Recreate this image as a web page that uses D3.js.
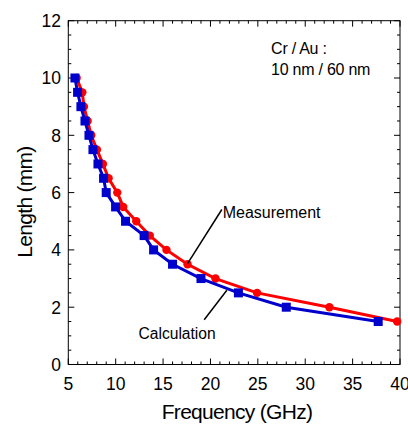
<!DOCTYPE html>
<html><head><meta charset="utf-8">
<script src="https://cdn.jsdelivr.net/npm/d3@7"></script>
<style>body{margin:0;background:#fff}svg{display:block}text{font-family:"Liberation Sans",Arial,sans-serif;fill:#000}</style>
</head><body>
<svg id="c" width="408" height="427"></svg>
<script>
const lengths = [10,9.5,9,8.5,8,7.5,7,6.5,6,5.5,5,4.5,4,3.5,3,2.5,2,1.5];
const measFreq = [5.88,6.48,6.65,7.04,7.42,8.02,8.65,9.25,10.17,10.8,12.17,13.6,15.36,17.58,20.53,24.92,32.55,39.7];
const calcFreq = [5.7,5.98,6.33,6.76,7.18,7.6,8.13,8.72,9.0,9.99,11.04,13.0,14.0,16.0,19.0,22.95,28.0,37.7];
const xTicks = [5,10,15,20,25,30,35,40];
const yTicks = [0,2,4,6,8,10,12];
const labels = {x:"Frequency (GHz)", y:"Length (mm)", note1:"Cr / Au :", note2:"10 nm / 60 nm", meas:"Measurement", calc:"Calculation"};

const svg = d3.select("#c");
const L=68.3, R=400, T=20.7, B=364.5;
const x = d3.scaleLinear().domain([5,40]).range([L,R]);
const y = d3.scaleLinear().domain([0,12]).range([B,T]);

// frame
svg.append("rect").attr("x",L).attr("y",T).attr("width",R-L).attr("height",B-T)
  .attr("fill","none").attr("stroke","#000").attr("stroke-width",1);

// ticks (inside)
const g = svg.append("g").attr("stroke","#000").attr("stroke-width",1);
d3.range(5,40.01,1).forEach(v=>{
  const len = v%5===0 ? 6 : 3;
  g.append("line").attr("x1",x(v)).attr("x2",x(v)).attr("y1",B).attr("y2",B-len);
  g.append("line").attr("x1",x(v)).attr("x2",x(v)).attr("y1",T).attr("y2",T+len);
});
d3.range(0,12.01,0.5).forEach(v=>{
  const len = v%2===0 ? 6 : 3;
  g.append("line").attr("y1",y(v)).attr("y2",y(v)).attr("x1",L).attr("x2",L+len);
  g.append("line").attr("y1",y(v)).attr("y2",y(v)).attr("x1",R).attr("x2",R-len);
});

// tick labels
svg.append("g").selectAll("text").data(xTicks).join("text")
  .attr("x",d=>x(d)).attr("y",390).attr("text-anchor","middle")
  .attr("font-size",17.5).text(d=>d);
svg.append("g").selectAll("text").data(yTicks).join("text")
  .attr("x",61).attr("y",d=>y(d)+6.3).attr("text-anchor","end")
  .attr("font-size",17.5).text(d=>d);

// axis titles
svg.append("text").attr("x",237).attr("y",419).attr("text-anchor","middle")
  .attr("font-size",21).attr("letter-spacing",-0.7).text(labels.x);
svg.append("text").attr("transform","translate(32,202) rotate(-90)").attr("text-anchor","middle")
  .attr("font-size",21).attr("letter-spacing",-0.7).text(labels.y);

// series
const line = d3.line();
const meas = measFreq.map((f,i)=>[x(f),y(lengths[i])]);
const calc = calcFreq.map((f,i)=>[x(f),y(lengths[i])]);
svg.append("path").attr("d",line(meas)).attr("fill","none").attr("stroke","#ff0000").attr("stroke-width",3);
svg.append("g").selectAll("circle").data(meas).join("circle")
  .attr("cx",d=>d[0]).attr("cy",d=>d[1]).attr("r",4.2).attr("fill","#ff0000");
svg.append("path").attr("d",line(calc)).attr("fill","none").attr("stroke","#0000cc").attr("stroke-width",3);
svg.append("g").selectAll("rect").data(calc).join("rect")
  .attr("x",d=>d[0]-4.5).attr("y",d=>d[1]-4.5).attr("width",9).attr("height",9).attr("fill","#0000cc");

// annotations
svg.append("line").attr("x1",x(21.2)).attr("y1",y(5.41)).attr("x2",x(17.58)).attr("y2",y(3.52))
  .attr("stroke","#000").attr("stroke-width",1.5);
svg.append("line").attr("x1",x(19.34)).attr("y1",y(1.56)).attr("x2",x(21.73)).attr("y2",y(2.59))
  .attr("stroke","#000").attr("stroke-width",1.5);
svg.append("text").attr("x",x(21.29)).attr("y",y(5.13)).attr("font-size",16).text(labels.meas);
svg.append("text").attr("x",x(12.41)).attr("y",y(0.90)).attr("font-size",15.6).text(labels.calc);
svg.append("text").attr("x",x(26.4)).attr("y",y(10.84)).attr("font-size",16).attr("letter-spacing",-0.25).text(labels.note1);
svg.append("text").attr("x",x(26.4)).attr("y",y(10.1)).attr("font-size",16).attr("letter-spacing",-0.25).text(labels.note2);
</script>
</body></html>
